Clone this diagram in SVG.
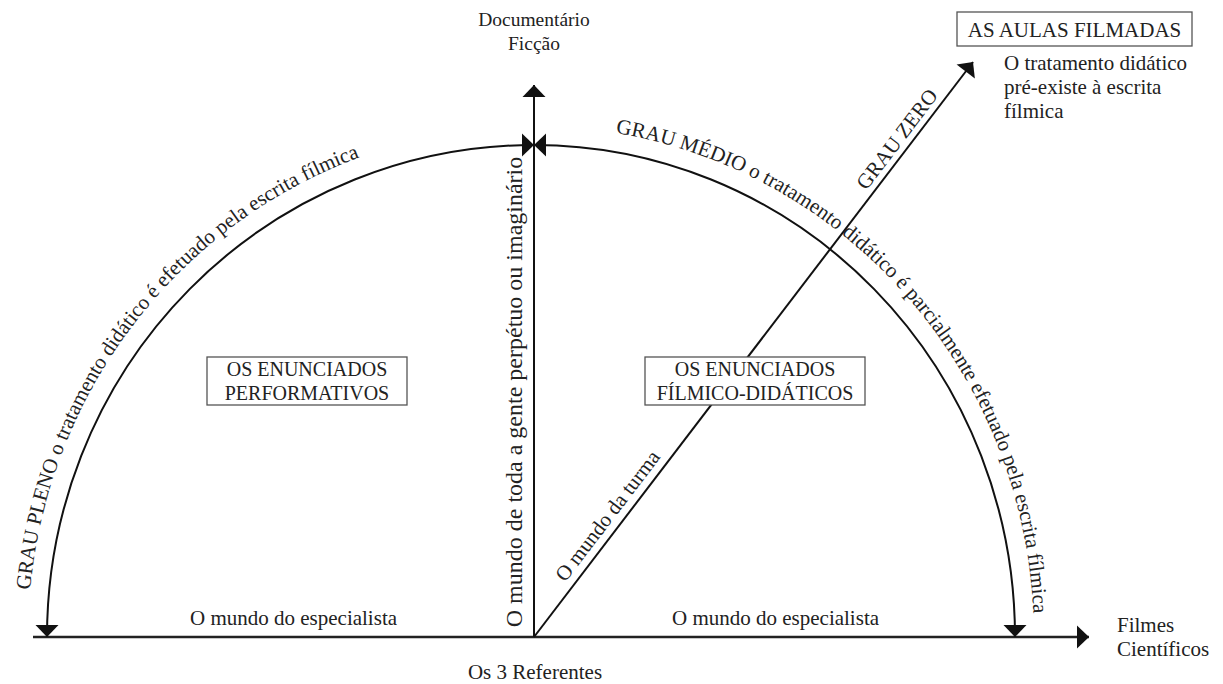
<svg xmlns="http://www.w3.org/2000/svg" width="1223" height="684" viewBox="0 0 1223 684">
<style>
text{font-family:"Liberation Serif","Times New Roman",serif;font-size:21px;fill:#222}
.ln{fill:none;stroke:#111;stroke-width:2}
.ax{fill:none;stroke:#222;stroke-width:2.4}
.box{fill:#fff;stroke:#555;stroke-width:1.3}
.mid{text-anchor:middle}
.bt{font-size:20px}
.sm{font-size:19.5px}
.vt{font-size:24px}
</style>
<defs>
<marker id="ah" markerUnits="userSpaceOnUse" markerWidth="28" markerHeight="28" viewBox="-14 -14 28 28" refX="0" refY="0" orient="auto-start-reverse">
<path d="M0,0 L-12,-11.5 L-12,11.5 Z" fill="#111"/>
</marker>
<path id="tpL" d="M28,637 A506,511 0 0 1 534,126"/>
<path id="tpR" d="M534,126 A500,511 0 0 1 1034,637"/>
</defs>
<g id="connectors">
<path class="ax" d="M33,637 H1089" marker-end="url(#ah)"/>
<path class="ln" d="M534,637 V85" marker-end="url(#ah)"/>
<path class="ln" d="M534,637 L973,62" marker-end="url(#ah)"/>
<path class="ln" d="M47,637 A487,492 0 0 1 534,145" marker-start="url(#ah)" marker-end="url(#ah)"/>
<path class="ln" d="M1015,637 A481,492 0 0 0 534,145" marker-start="url(#ah)" marker-end="url(#ah)"/>
</g>
<g id="arc-labels">
<text><textPath href="#tpL" startOffset="47">GRAU PLENO o tratamento didático é efetuado pela escrita fílmica</textPath></text>
<text><textPath href="#tpR" startOffset="82">GRAU MÉDIO o tratamento didático é parcialmente efetuado pela escrita fílmica</textPath></text>
</g>
<g id="axis-labels">
<text class="mid sm" x="534" y="26">Documentário</text>
<text class="mid sm" x="534" y="50">Ficção</text>
<text x="190" y="625">O mundo do especialista</text>
<text x="672" y="625">O mundo do especialista</text>
<text class="mid" x="535" y="679">Os 3 Referentes</text>
<text x="1117" y="632">Filmes</text>
<text x="1117" y="656">Científicos</text>
<text class="mid vt" transform="translate(522,392) rotate(-90)">O mundo de toda a gente perpétuo ou imaginário</text>
<g transform="translate(534,637) rotate(-52.7)">
<text class="mid" x="141" y="-8">O mundo da turma</text>
<text class="mid" x="616" y="-6">GRAU ZERO</text>
</g>
</g>
<g id="node-performativos">
<rect class="box" x="207" y="357" width="200" height="48"/>
<text class="mid bt" x="307" y="376">OS ENUNCIADOS</text>
<text class="mid bt" x="307" y="400">PERFORMATIVOS</text>
</g>
<g id="node-filmico-didaticos">
<rect class="box" x="645" y="357" width="220" height="48"/>
<text class="mid bt" x="755" y="376">OS ENUNCIADOS</text>
<text class="mid bt" x="755" y="400">FÍLMICO-DIDÁTICOS</text>
</g>
<g id="node-aulas-filmadas">
<rect class="box" x="957" y="12" width="235" height="34"/>
<text class="mid" x="1074.5" y="37">AS AULAS FILMADAS</text>
<text x="1004" y="70">O tratamento didático</text>
<text x="1004" y="94">pré-existe à escrita</text>
<text x="1004" y="118">fílmica</text>
</g>
</svg>
